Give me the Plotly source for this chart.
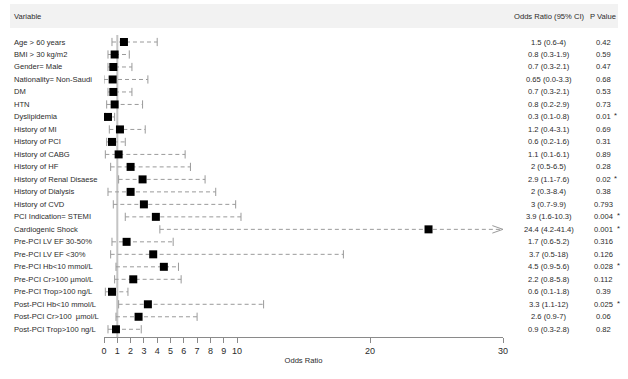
import plotly.graph_objects as go

variables = ["Age > 60 years", "BMI > 30 kg/m2", "Gender= Male", "Nationality= Non-Saudi", "DM", "HTN",
             "Dyslipidemia", "History of MI", "History of PCI", "History of CABG", "History of HF",
             "History of Renal Disaese", "History of Dialysis", "History of CVD", "PCI Indication= STEMI",
             "Cardiogenic Shock", "Pre-PCI LV EF 30-50%", "Pre-PCI LV EF <30%", "Pre-PCI Hb<10 mmol/L",
             "Pre-PCI Cr>100 µmol/L", "Pre-PCI Trop>100 ng/L", "Post-PCI Hb<10 mmol/L",
             "Post-PCI Cr>100  µmol/L", "Post-PCI Trop>100 ng/L"]
odds_ratio = [1.5, 0.8, 0.7, 0.65, 0.7, 0.8, 0.3, 1.2, 0.6, 1.1, 2, 2.9, 2, 3, 3.9, 24.4, 1.7, 3.7, 4.5, 2.2, 0.6, 3.3, 2.6, 0.9]
ci_lower = [0.6, 0.3, 0.3, 0.0, 0.3, 0.2, 0.1, 0.4, 0.2, 0.1, 0.5, 1.1, 0.3, 0.7, 1.6, 4.2, 0.6, 0.5, 0.9, 0.8, 0.1, 1.1, 0.9, 0.3]
ci_upper = [4, 1.9, 2.1, 3.3, 2.1, 2.9, 0.8, 3.1, 1.6, 6.1, 6.5, 7.6, 8.4, 9.9, 10.3, 41.4, 5.2, 18, 5.6, 5.8, 1.8, 12, 7, 2.8]
ci_text = ["1.5 (0.6-4)", "0.8 (0.3-1.9)", "0.7 (0.3-2.1)", "0.65 (0.0-3.3)", "0.7 (0.3-2.1)", "0.8 (0.2-2.9)",
           "0.3 (0.1-0.8)", "1.2 (0.4-3.1)", "0.6 (0.2-1.6)", "1.1 (0.1-6.1)", "2 (0.5-6.5)", "2.9 (1.1-7.6)",
           "2 (0.3-8.4)", "3 (0.7-9.9)", "3.9 (1.6-10.3)", "24.4 (4.2-41.4)", "1.7 (0.6-5.2)", "3.7 (0.5-18)",
           "4.5 (0.9-5.6)", "2.2 (0.8-5.8)", "0.6 (0.1-1.8)", "3.3 (1.1-12)", "2.6 (0.9-7)", "0.9 (0.3-2.8)"]
p_values = ["0.42", "0.59", "0.47", "0.68", "0.53", "0.73", "0.01", "0.69", "0.31", "0.89", "0.28", "0.02",
            "0.38", "0.793", "0.004", "0.001", "0.316", "0.126", "0.028", "0.112", "0.39", "0.025", "0.06", "0.82"]
significant = [False, False, False, False, False, False, True, False, False, False, False, True,
               False, False, True, True, False, False, True, False, False, True, False, False]
x_ticks = [0, 1, 2, 3, 4, 5, 6, 7, 8, 9, 10, 20, 30]

W, H = 628, 379
X_MAX = 30
FONT = "Liberation Sans, Arial, sans-serif"
TXT = "#2b2b2b"
GRAY = "#9a9a9a"
FS = 7.6

rows = list(range(len(variables)))
row0_px, row_step = 42.0, 12.49
axis_px = 337.0
y_top = -row0_px / row_step
y_bot = (axis_px - row0_px) / row_step

fig = go.Figure()

# dashed CI lines
lx, ly = [], []
for i, lo, hi in zip(rows, ci_lower, ci_upper):
    lx += [lo, min(hi, X_MAX), None]
    ly += [i, i, None]
fig.add_trace(go.Scatter(x=lx, y=ly, mode="lines", line=dict(color=GRAY, width=1, dash="4px,3px"),
                         hoverinfo="skip", cliponaxis=False, showlegend=False))

# caps & arrows
cx, cy = [], []
cap = 0.33
for i, lo, hi in zip(rows, ci_lower, ci_upper):
    cx += [lo, lo, None]
    cy += [i - cap, i + cap, None]
    if hi <= X_MAX:
        cx += [hi, hi, None]
        cy += [i - cap, i + cap, None]
    else:
        d = 0.8
        cx += [X_MAX - d, X_MAX, X_MAX - d, None]
        cy += [i - 0.3, i, i + 0.3, None]
fig.add_trace(go.Scatter(x=cx, y=cy, mode="lines", line=dict(color=GRAY, width=1),
                         hoverinfo="skip", cliponaxis=False, showlegend=False))

# point estimates
fig.add_trace(go.Scatter(x=odds_ratio, y=rows, mode="markers",
                         marker=dict(symbol="square", size=8, color="black"),
                         cliponaxis=False, showlegend=False))

ann = []
hdr_y = 1 - 16 / H
ci_x = 549 / W
p_x = 603 / W
for txt, xx, anc in [("Variable", 12 / W, "left"), ("Odds Ratio (95% CI)", ci_x, "center"), ("P Value", p_x, "center")]:
    ann.append(dict(x=xx, y=hdr_y, xref="paper", yref="paper", text=txt, showarrow=False,
                    xanchor=anc, yanchor="middle", font=dict(size=FS, color=TXT, family=FONT)))

char_w = {".": 0.278}
for i in rows:
    ann.append(dict(x=12 / W, y=i, xref="paper", yref="y", text=variables[i], showarrow=False,
                    xanchor="left", yanchor="middle", font=dict(size=FS, color=TXT, family=FONT)))
    ann.append(dict(x=ci_x, y=i, xref="paper", yref="y", text=ci_text[i], showarrow=False,
                    xanchor="center", yanchor="middle", font=dict(size=FS, color=TXT, family=FONT)))
    ann.append(dict(x=p_x, y=i, xref="paper", yref="y", text=p_values[i], showarrow=False,
                    xanchor="center", yanchor="middle", font=dict(size=FS, color=TXT, family=FONT)))
    if significant[i]:
        wpx = sum(char_w.get(c, 0.556) for c in p_values[i]) * FS
        ann.append(dict(x=(p_x * W + wpx / 2 + 2) / W, y=i - 0.1, xref="paper", yref="y", text="*",
                        showarrow=False, xanchor="left", yanchor="middle",
                        font=dict(size=FS, color=TXT, family=FONT)))

shapes = [
    dict(type="rect", xref="paper", yref="paper", x0=10 / W, x1=618 / W, y0=1 - 28 / H, y1=1 - 4 / H,
         fillcolor="#f2f2f2", line=dict(width=0), layer="below"),
    dict(type="line", xref="x", yref="y", x0=1, x1=1, y0=(35 - row0_px) / row_step, y1=y_bot,
         line=dict(color="#c4c4c4", width=2), layer="below"),
]

fig.update_layout(
    width=W, height=H, margin=dict(l=0, r=0, t=0, b=0, autoexpand=False),
    paper_bgcolor="white", plot_bgcolor="white",
    annotations=ann, shapes=shapes, showlegend=False,
    xaxis=dict(domain=[104 / W, 503 / W], range=[0, X_MAX], tickvals=x_ticks,
               ticktext=[str(t) for t in x_ticks], showgrid=False, zeroline=False,
               showline=True, linecolor="#8a8a8a", linewidth=1, ticks="outside", ticklen=5,
               tickcolor="#8a8a8a", tickfont=dict(size=9, color=TXT, family=FONT),
               title=dict(text="Odds Ratio", font=dict(size=FS, color=TXT, family=FONT), standoff=2)),
    yaxis=dict(domain=[1 - axis_px / H, 1], range=[y_bot, y_top], visible=False),
)

fig.write_html("out.html", config={"displayModeBar": False},
               post_script="document.body.style.margin='0';document.body.style.overflow='hidden';")
